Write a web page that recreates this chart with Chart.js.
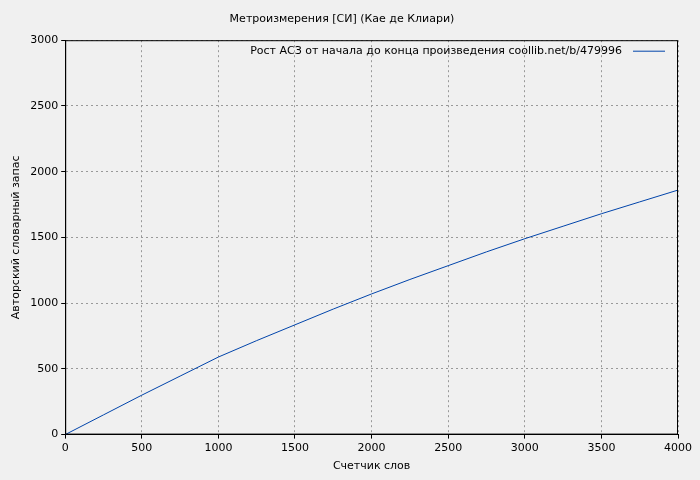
<!DOCTYPE html>
<html><head><meta charset="utf-8">
<script src="https://cdn.jsdelivr.net/npm/chart.js@4"></script>
<style>html,body{margin:0;padding:0;background:#f0f0f0}#w{width:700px;height:480px}</style>
</head><body><div id="w"><canvas id="c"></canvas></div>
<script>
const xValues=[0,250,500,750,1000,1250,1500,1750,2000,2250,2500,2750,3000,3250,3500,3750,4000];
const yValues=[0,150,300,445,590,715,835,955,1070,1180,1285,1390,1490,1585,1680,1770,1860];
const seriesName='Рост АСЗ от начала до конца произведения coollib.net/b/479996';
const chartTitle='Метроизмерения [СИ] (Кае де Клиари)';
const xTitle='Счетчик слов', yTitle='Авторский словарный запас';
const F='"DejaVu Sans", sans-serif';
const legendPlugin={id:'lg',afterDraw(ch){const a=ch.chartArea,c=ch.ctx;c.save();c.font='11px '+F;c.fillStyle='#000';c.textAlign='right';c.textBaseline='middle';c.fillText(seriesName,a.right-56,a.top+11);c.strokeStyle='#0044aa';c.lineWidth=1;c.beginPath();c.moveTo(a.right-45,a.top+11);c.lineTo(a.right-13,a.top+11);c.stroke();c.restore();}};
const tk=v=>String(v);
new Chart(document.getElementById('c'),{type:'line',
data:{datasets:[{data:xValues.map((x,i)=>({x:x,y:yValues[i]})),borderColor:'#0044aa',borderWidth:1,pointRadius:0,tension:0}]},
options:{animation:false,responsive:true,maintainAspectRatio:false,
layout:{padding:{left:6,right:22,top:0,bottom:3}},
plugins:{legend:{display:false},tooltip:{enabled:false},
title:{display:true,text:chartTitle,color:'#000',font:{family:F,size:11,weight:'normal'},padding:{top:13,bottom:14}}},
scales:{x:{type:'linear',min:0,max:4000,ticks:{stepSize:500,callback:tk,color:'#000',font:{family:F,size:11},maxRotation:0},
title:{display:true,text:xTitle,color:'#000',font:{family:F,size:11},padding:{top:2}},
grid:{color:'#999',tickColor:'#000',tickLength:4},border:{color:'#000',dash:[2,3]}},
y:{min:0,max:3000,ticks:{stepSize:500,callback:tk,color:'#000',font:{family:F,size:11}},
title:{display:true,text:yTitle,color:'#000',font:{family:F,size:11}},
grid:{color:'#999',tickColor:'#000',tickLength:4},border:{color:'#000',dash:[2,3]}}}},
plugins:[legendPlugin,{id:'frame',afterDraw(ch){const a=ch.chartArea,c=ch.ctx;c.save();c.strokeStyle='#000';c.lineWidth=1;c.strokeRect(a.left+0.5,a.top+0.5,a.width-1,a.height-1);c.restore();}}]});
</script></body></html>
